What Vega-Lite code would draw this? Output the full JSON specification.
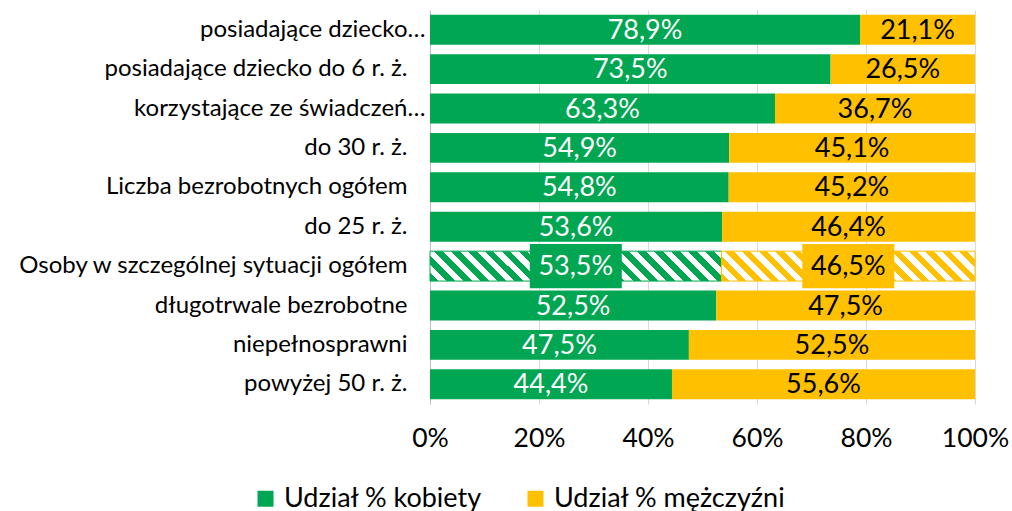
{
  "$schema": "https://vega.github.io/schema/vega-lite/v6.json",
  "width": 545,
  "height": 394,
  "padding": {"left": 5, "top": 10, "right": 5, "bottom": 0},
  "background": "white",
  "config": {
    "font": "Lato",
    "view": {"stroke": null},
    "locale": {"number": {"decimal": ",", "thousands": "\u00a0", "grouping": [3], "currency": ["", " zł"], "percent": "%"}}
  },
  "data": {
    "values": [
      {"cat": "posiadające dziecko…", "sex": "Udział % kobiety", "ord": 0, "value": 0.789},
      {"cat": "posiadające dziecko…", "sex": "Udział % mężczyźni", "ord": 1, "value": 0.211},
      {"cat": "posiadające dziecko do 6 r. ż.", "sex": "Udział % kobiety", "ord": 0, "value": 0.735},
      {"cat": "posiadające dziecko do 6 r. ż.", "sex": "Udział % mężczyźni", "ord": 1, "value": 0.265},
      {"cat": "korzystające ze świadczeń…", "sex": "Udział % kobiety", "ord": 0, "value": 0.633},
      {"cat": "korzystające ze świadczeń…", "sex": "Udział % mężczyźni", "ord": 1, "value": 0.367},
      {"cat": "do 30 r. ż.", "sex": "Udział % kobiety", "ord": 0, "value": 0.549},
      {"cat": "do 30 r. ż.", "sex": "Udział % mężczyźni", "ord": 1, "value": 0.451},
      {"cat": "Liczba bezrobotnych ogółem", "sex": "Udział % kobiety", "ord": 0, "value": 0.548},
      {"cat": "Liczba bezrobotnych ogółem", "sex": "Udział % mężczyźni", "ord": 1, "value": 0.452},
      {"cat": "do 25 r. ż.", "sex": "Udział % kobiety", "ord": 0, "value": 0.536},
      {"cat": "do 25 r. ż.", "sex": "Udział % mężczyźni", "ord": 1, "value": 0.464},
      {"cat": "Osoby w szczególnej sytuacji ogółem", "sex": "Udział % kobiety", "ord": 0, "value": 0.535, "hatch": true},
      {"cat": "Osoby w szczególnej sytuacji ogółem", "sex": "Udział % mężczyźni", "ord": 1, "value": 0.465, "hatch": true},
      {"cat": "długotrwale bezrobotne", "sex": "Udział % kobiety", "ord": 0, "value": 0.525},
      {"cat": "długotrwale bezrobotne", "sex": "Udział % mężczyźni", "ord": 1, "value": 0.475},
      {"cat": "niepełnosprawni", "sex": "Udział % kobiety", "ord": 0, "value": 0.475},
      {"cat": "niepełnosprawni", "sex": "Udział % mężczyźni", "ord": 1, "value": 0.525},
      {"cat": "powyżej 50 r. ż.", "sex": "Udział % kobiety", "ord": 0, "value": 0.444},
      {"cat": "powyżej 50 r. ż.", "sex": "Udział % mężczyźni", "ord": 1, "value": 0.556}
    ]
  },
  "transform": [
    {"stack": "value", "groupby": ["cat"], "sort": [{"field": "ord", "order": "ascending"}], "as": ["v0", "v1"]},
    {"calculate": "(datum.v0 + datum.v1) / 2", "as": "mid"}
  ],
  "encoding": {
    "y": {
      "field": "cat",
      "type": "nominal",
      "title": null,
      "scale": {
        "domain": [
          "posiadające dziecko…",
          "posiadające dziecko do 6 r. ż.",
          "korzystające ze świadczeń…",
          "do 30 r. ż.",
          "Liczba bezrobotnych ogółem",
          "do 25 r. ż.",
          "Osoby w szczególnej sytuacji ogółem",
          "długotrwale bezrobotne",
          "niepełnosprawni",
          "powyżej 50 r. ż."
        ],
        "paddingInner": 0.24,
        "paddingOuter": 0.12
      },
      "axis": {
        "domain": true,
        "domainColor": "#bfbfbf",
        "domainWidth": 1,
        "ticks": false,
        "grid": false,
        "labelFontSize": 24,
        "labelColor": "#000000",
        "labelPadding": {"condition": {"test": "indexof(datum.value, '…') >= 0", "value": 5}, "value": 23},
        "labelLimit": 0,
        "minExtent": 425,
        "maxExtent": 425
      }
    }
  },
  "layer": [
    {
      "transform": [{"filter": "!datum.hatch"}],
      "mark": {"type": "bar"},
      "encoding": {
        "x": {
          "field": "v0",
          "type": "quantitative",
          "scale": {"domain": [0, 1], "nice": false},
          "title": null,
          "axis": {
            "format": "%",
            "values": [0, 0.2, 0.4, 0.6, 0.8, 1],
            "grid": true,
            "gridColor": "#d9d9d9",
            "domain": false,
            "ticks": false,
            "labelFlush": false,
            "labelFontSize": 26.5,
            "labelColor": "#000000",
            "labelPadding": 21
          }
        },
        "x2": {"field": "v1"},
        "color": {
          "field": "sex",
          "type": "nominal",
          "scale": {"domain": ["Udział % kobiety", "Udział % mężczyźni"], "range": ["#00A651", "#FFC000"]},
          "legend": {
            "title": null,
            "orient": "none",
            "direction": "horizontal",
            "legendX": -178,
            "legendY": 475,
            "symbolType": "square",
            "symbolSize": 256,
            "symbolStrokeWidth": 0,
            "symbolOpacity": 1,
            "labelFontSize": 27,
            "labelColor": "#000000",
            "labelOffset": 5,
            "columnPadding": 40,
            "labelLimit": 0
          }
        }
      }
    },
    {
      "transform": [{"filter": "datum.hatch && datum.ord == 0"}],
      "mark": {
        "type": "bar",
        "stroke": "#00A651",
        "strokeWidth": 1,
        "fill": {
          "gradient": "linear",
          "x1": 0, "y1": 1, "x2": 1.0914, "y2": 0.8877,
          "stops": [
            {"offset": 0, "color": "#00A651"},
            {"offset": 0.0263, "color": "#00A651"}, {"offset": 0.0263, "color": "#ffffff"},
            {"offset": 0.0526, "color": "#ffffff"}, {"offset": 0.0526, "color": "#00A651"},
            {"offset": 0.0789, "color": "#00A651"}, {"offset": 0.0789, "color": "#ffffff"},
            {"offset": 0.1053, "color": "#ffffff"}, {"offset": 0.1053, "color": "#00A651"},
            {"offset": 0.1316, "color": "#00A651"}, {"offset": 0.1316, "color": "#ffffff"},
            {"offset": 0.1579, "color": "#ffffff"}, {"offset": 0.1579, "color": "#00A651"},
            {"offset": 0.1842, "color": "#00A651"}, {"offset": 0.1842, "color": "#ffffff"},
            {"offset": 0.2105, "color": "#ffffff"}, {"offset": 0.2105, "color": "#00A651"},
            {"offset": 0.2368, "color": "#00A651"}, {"offset": 0.2368, "color": "#ffffff"},
            {"offset": 0.2632, "color": "#ffffff"}, {"offset": 0.2632, "color": "#00A651"},
            {"offset": 0.2895, "color": "#00A651"}, {"offset": 0.2895, "color": "#ffffff"},
            {"offset": 0.3158, "color": "#ffffff"}, {"offset": 0.3158, "color": "#00A651"},
            {"offset": 0.3421, "color": "#00A651"}, {"offset": 0.3421, "color": "#ffffff"},
            {"offset": 0.3684, "color": "#ffffff"}, {"offset": 0.3684, "color": "#00A651"},
            {"offset": 0.3947, "color": "#00A651"}, {"offset": 0.3947, "color": "#ffffff"},
            {"offset": 0.4211, "color": "#ffffff"}, {"offset": 0.4211, "color": "#00A651"},
            {"offset": 0.4474, "color": "#00A651"}, {"offset": 0.4474, "color": "#ffffff"},
            {"offset": 0.4737, "color": "#ffffff"}, {"offset": 0.4737, "color": "#00A651"},
            {"offset": 0.5, "color": "#00A651"}, {"offset": 0.5, "color": "#ffffff"},
            {"offset": 0.5263, "color": "#ffffff"}, {"offset": 0.5263, "color": "#00A651"},
            {"offset": 0.5526, "color": "#00A651"}, {"offset": 0.5526, "color": "#ffffff"},
            {"offset": 0.5789, "color": "#ffffff"}, {"offset": 0.5789, "color": "#00A651"},
            {"offset": 0.6053, "color": "#00A651"}, {"offset": 0.6053, "color": "#ffffff"},
            {"offset": 0.6316, "color": "#ffffff"}, {"offset": 0.6316, "color": "#00A651"},
            {"offset": 0.6579, "color": "#00A651"}, {"offset": 0.6579, "color": "#ffffff"},
            {"offset": 0.6842, "color": "#ffffff"}, {"offset": 0.6842, "color": "#00A651"},
            {"offset": 0.7105, "color": "#00A651"}, {"offset": 0.7105, "color": "#ffffff"},
            {"offset": 0.7368, "color": "#ffffff"}, {"offset": 0.7368, "color": "#00A651"},
            {"offset": 0.7632, "color": "#00A651"}, {"offset": 0.7632, "color": "#ffffff"},
            {"offset": 0.7895, "color": "#ffffff"}, {"offset": 0.7895, "color": "#00A651"},
            {"offset": 0.8158, "color": "#00A651"}, {"offset": 0.8158, "color": "#ffffff"},
            {"offset": 0.8421, "color": "#ffffff"}, {"offset": 0.8421, "color": "#00A651"},
            {"offset": 0.8684, "color": "#00A651"}, {"offset": 0.8684, "color": "#ffffff"},
            {"offset": 0.8947, "color": "#ffffff"}, {"offset": 0.8947, "color": "#00A651"},
            {"offset": 0.9211, "color": "#00A651"}, {"offset": 0.9211, "color": "#ffffff"},
            {"offset": 0.9474, "color": "#ffffff"}, {"offset": 0.9474, "color": "#00A651"},
            {"offset": 0.9737, "color": "#00A651"}, {"offset": 0.9737, "color": "#ffffff"},
            {"offset": 1, "color": "#ffffff"}
          ]
        }
      },
      "encoding": {
        "x": {"field": "v0", "type": "quantitative"},
        "x2": {"field": "v1"}
      }
    },
    {
      "transform": [{"filter": "datum.hatch && datum.ord == 1"}],
      "mark": {
        "type": "bar",
        "stroke": "#FFC000",
        "strokeWidth": 1,
        "fill": {
          "gradient": "linear",
          "x1": 0, "y1": 1, "x2": 1.1030, "y2": 0.8694,
          "stops": [
            {"offset": 0, "color": "#FFC000"},
            {"offset": 0.0294, "color": "#FFC000"}, {"offset": 0.0294, "color": "#ffffff"},
            {"offset": 0.0588, "color": "#ffffff"}, {"offset": 0.0588, "color": "#FFC000"},
            {"offset": 0.0882, "color": "#FFC000"}, {"offset": 0.0882, "color": "#ffffff"},
            {"offset": 0.1176, "color": "#ffffff"}, {"offset": 0.1176, "color": "#FFC000"},
            {"offset": 0.1471, "color": "#FFC000"}, {"offset": 0.1471, "color": "#ffffff"},
            {"offset": 0.1765, "color": "#ffffff"}, {"offset": 0.1765, "color": "#FFC000"},
            {"offset": 0.2059, "color": "#FFC000"}, {"offset": 0.2059, "color": "#ffffff"},
            {"offset": 0.2353, "color": "#ffffff"}, {"offset": 0.2353, "color": "#FFC000"},
            {"offset": 0.2647, "color": "#FFC000"}, {"offset": 0.2647, "color": "#ffffff"},
            {"offset": 0.2941, "color": "#ffffff"}, {"offset": 0.2941, "color": "#FFC000"},
            {"offset": 0.3235, "color": "#FFC000"}, {"offset": 0.3235, "color": "#ffffff"},
            {"offset": 0.3529, "color": "#ffffff"}, {"offset": 0.3529, "color": "#FFC000"},
            {"offset": 0.3824, "color": "#FFC000"}, {"offset": 0.3824, "color": "#ffffff"},
            {"offset": 0.4118, "color": "#ffffff"}, {"offset": 0.4118, "color": "#FFC000"},
            {"offset": 0.4412, "color": "#FFC000"}, {"offset": 0.4412, "color": "#ffffff"},
            {"offset": 0.4706, "color": "#ffffff"}, {"offset": 0.4706, "color": "#FFC000"},
            {"offset": 0.5, "color": "#FFC000"}, {"offset": 0.5, "color": "#ffffff"},
            {"offset": 0.5294, "color": "#ffffff"}, {"offset": 0.5294, "color": "#FFC000"},
            {"offset": 0.5588, "color": "#FFC000"}, {"offset": 0.5588, "color": "#ffffff"},
            {"offset": 0.5882, "color": "#ffffff"}, {"offset": 0.5882, "color": "#FFC000"},
            {"offset": 0.6176, "color": "#FFC000"}, {"offset": 0.6176, "color": "#ffffff"},
            {"offset": 0.6471, "color": "#ffffff"}, {"offset": 0.6471, "color": "#FFC000"},
            {"offset": 0.6765, "color": "#FFC000"}, {"offset": 0.6765, "color": "#ffffff"},
            {"offset": 0.7059, "color": "#ffffff"}, {"offset": 0.7059, "color": "#FFC000"},
            {"offset": 0.7353, "color": "#FFC000"}, {"offset": 0.7353, "color": "#ffffff"},
            {"offset": 0.7647, "color": "#ffffff"}, {"offset": 0.7647, "color": "#FFC000"},
            {"offset": 0.7941, "color": "#FFC000"}, {"offset": 0.7941, "color": "#ffffff"},
            {"offset": 0.8235, "color": "#ffffff"}, {"offset": 0.8235, "color": "#FFC000"},
            {"offset": 0.8529, "color": "#FFC000"}, {"offset": 0.8529, "color": "#ffffff"},
            {"offset": 0.8824, "color": "#ffffff"}, {"offset": 0.8824, "color": "#FFC000"},
            {"offset": 0.9118, "color": "#FFC000"}, {"offset": 0.9118, "color": "#ffffff"},
            {"offset": 0.9412, "color": "#ffffff"}, {"offset": 0.9412, "color": "#FFC000"},
            {"offset": 0.9706, "color": "#FFC000"}, {"offset": 0.9706, "color": "#ffffff"},
            {"offset": 1, "color": "#ffffff"}
          ]
        }
      },
      "encoding": {
        "x": {"field": "v0", "type": "quantitative"},
        "x2": {"field": "v1"}
      }
    },
    {
      "transform": [{"filter": "datum.hatch"}],
      "mark": {
        "type": "point",
        "shape": "M-1,-0.48L1,-0.48L1,0.48L-1,0.48Z",
        "size": 8464,
        "filled": true,
        "opacity": 1,
        "strokeWidth": 0
      },
      "encoding": {
        "x": {"field": "mid", "type": "quantitative"},
        "fill": {"condition": {"test": "datum.ord == 0", "value": "#00A651"}, "value": "#FFC000"}
      }
    },
    {
      "mark": {"type": "text", "fontSize": 27, "align": "center", "baseline": "middle", "dy": 1},
      "encoding": {
        "x": {"field": "mid", "type": "quantitative"},
        "text": {"field": "value", "type": "quantitative", "format": ".1%"},
        "fill": {"condition": {"test": "datum.ord == 0", "value": "#ffffff"}, "value": "#000000"}
      }
    }
  ]
}
